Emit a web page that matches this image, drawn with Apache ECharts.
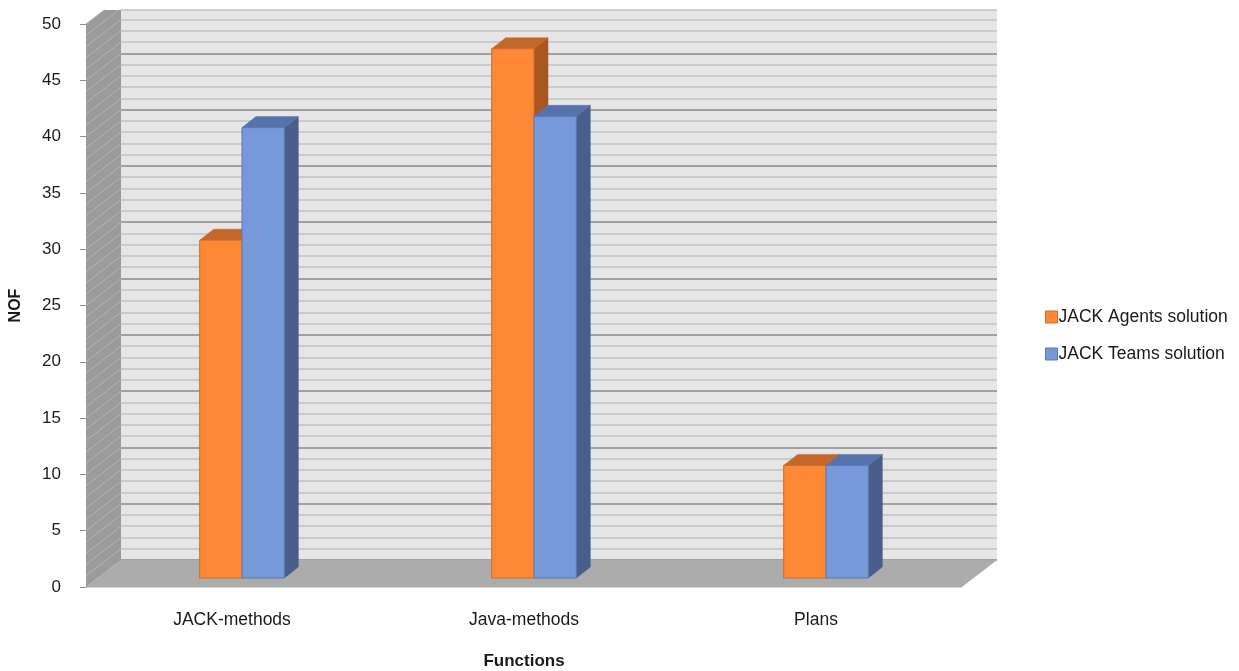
<!DOCTYPE html>
<html>
<head>
<meta charset="utf-8">
<title>NOF by function</title>
<script src="https://cdn.jsdelivr.net/npm/echarts@6/dist/echarts.min.js"></script>
<style>
  html, body { margin: 0; padding: 0; background: #fff; }
  #chart { width: 1239px; height: 671px; }
</style>
</head>
<body>
<div id="chart"></div>
<script>
// data
var categories = ["JACK-methods", "Java-methods", "Plans"];
var agentsSolution = [30, 47, 10];
var teamsSolution = [40, 41, 10];
var seriesNames = ["JACK Agents solution", "JACK Teams solution"];
var yTicks = [0, 5, 10, 15, 20, 25, 30, 35, 40, 45, 50];

// layout of the fake 3d box
var FRONT = { left: 86, right: 962, top: 24, bottom: 587 };
var DEPTH = { dx: 35, dy: -27 };
var WALL_TOP = 10;
var BAR_OFF = { dx: 10, dy: -9 };
var BAR_DEPTH = { dx: 14, dy: -11 };

var colors = [
  { front: "#fd8835", top: "#c4672a", side: "#a9561f", stroke: "#d36d26" },
  { front: "#7799da", top: "#5673ae", side: "#4a5e8c", stroke: "#5a79b4" }
];

var unit = (FRONT.bottom - FRONT.top) / 50;
var backBottom = FRONT.bottom + DEPTH.dy;
var backMax = (backBottom - WALL_TOP) / unit;

function renderBar(params, api) {
  var c = colors[params.seriesIndex];
  var base = api.coord([api.value(0), 0]);
  var top = api.coord([api.value(0), api.value(1)]);
  var band = api.size([1, 0])[0];
  var w = band * 0.145;
  var x0 = base[0] + (params.seriesIndex === 0 ? -w : 0);
  var x1 = x0 + w;
  var yT = top[1], yB = base[1];
  var dx = BAR_DEPTH.dx, dy = BAR_DEPTH.dy;
  return {
    type: "group",
    children: [
      {
        type: "polygon",
        shape: { points: [[x1, yB], [x1, yT], [x1 + dx, yT + dy], [x1 + dx, yB + dy]] },
        style: { fill: c.side, stroke: c.side, lineWidth: 0.5 }
      },
      {
        type: "polygon",
        shape: { points: [[x0, yT], [x1, yT], [x1 + dx, yT + dy], [x0 + dx, yT + dy]] },
        style: { fill: c.top, stroke: c.top, lineWidth: 0.5 }
      },
      {
        type: "rect",
        shape: { x: x0, y: yT, width: w, height: yB - yT },
        style: { fill: c.front, stroke: c.stroke, lineWidth: 1 }
      }
    ]
  };
}

function barData(values) {
  return values.map(function (v, i) { return [i, v]; });
}

var chart = echarts.init(document.getElementById("chart"));

chart.setOption({
  animation: false,
  textStyle: { fontFamily: "Liberation Sans, Arial, sans-serif" },
  legend: {
    orient: "vertical",
    left: 1040,
    top: 303,
    itemWidth: 12,
    itemHeight: 12,
    itemGap: 19,
    textStyle: { fontSize: 17.5, color: "#1a1a1a", padding: [0, 0, 0, -4] },
    data: [
      { name: seriesNames[0], icon: "rect", itemStyle: { color: colors[0].front, borderColor: colors[0].stroke, borderWidth: 1 } },
      { name: seriesNames[1], icon: "rect", itemStyle: { color: colors[1].front, borderColor: colors[1].stroke, borderWidth: 1 } }
    ]
  },
  grid: [
    // front plane: axis labels
    {
      left: FRONT.left, top: FRONT.top,
      width: FRONT.right - FRONT.left, height: FRONT.bottom - FRONT.top,
      outerBoundsMode: "none"
    },
    // back wall
    {
      left: FRONT.left + DEPTH.dx, top: WALL_TOP,
      width: FRONT.right - FRONT.left, height: backBottom - WALL_TOP,
      show: true, backgroundColor: "#e6e6e6", borderWidth: 0,
      outerBoundsMode: "none"
    },
    // plane where the bars stand
    {
      left: FRONT.left + BAR_OFF.dx, top: FRONT.top + BAR_OFF.dy,
      width: FRONT.right - FRONT.left, height: FRONT.bottom - FRONT.top,
      outerBoundsMode: "none"
    }
  ],
  xAxis: [
    {
      gridIndex: 0,
      type: "category",
      data: categories,
      name: "Functions",
      nameLocation: "middle",
      nameGap: 66,
      nameTextStyle: { fontWeight: "bold", fontSize: 17, color: "#1a1a1a" },
      axisLine: { lineStyle: { color: "#d4d4d4" } },
      axisTick: { show: false },
      axisLabel: { fontSize: 17.5, color: "#1a1a1a", margin: 24 }
    },
    { gridIndex: 1, type: "category", data: categories, show: false },
    { gridIndex: 2, type: "category", data: categories, show: false }
  ],
  yAxis: [
    {
      gridIndex: 0,
      type: "value",
      min: 0,
      max: 50,
      interval: 5,
      name: "NOF",
      nameLocation: "middle",
      nameGap: 62,
      nameTextStyle: { fontWeight: "bold", fontSize: 16, color: "#1a1a1a" },
      axisLine: { show: true, lineStyle: { color: "#8c8c8c" } },
      axisTick: { show: true, length: 6, lineStyle: { color: "#8c8c8c" } },
      axisLabel: { fontSize: 17, color: "#1a1a1a", margin: 25 },
      splitLine: { show: false }
    },
    {
      gridIndex: 1,
      type: "value",
      min: 0,
      max: backMax,
      interval: 1,
      axisLine: { show: false },
      axisTick: { show: false },
      axisLabel: { show: false },
      splitLine: {
        show: true,
        lineStyle: { color: ["#8a8a8a", "#c2c2c2", "#c2c2c2", "#c2c2c2", "#c2c2c2"], width: 1.5 }
      }
    },
    { gridIndex: 2, type: "value", min: 0, max: 50, show: false }
  ],
  series: [
    {
      name: seriesNames[0],
      type: "custom",
      xAxisIndex: 2,
      yAxisIndex: 2,
      itemStyle: { color: colors[0].front, borderColor: colors[0].stroke },
      renderItem: renderBar,
      data: barData(agentsSolution),
      z: 3
    },
    {
      name: seriesNames[1],
      type: "custom",
      xAxisIndex: 2,
      yAxisIndex: 2,
      itemStyle: { color: colors[1].front, borderColor: colors[1].stroke },
      renderItem: renderBar,
      data: barData(teamsSolution),
      z: 4
    }
  ]
});

// floor and side wall, placed from the front axis scale
function yFront(v) {
  return chart.convertToPixel({ yAxisIndex: 0 }, v);
}

var graphics = [];
var fl = FRONT.left, fr = FRONT.right, fb = yFront(0), ft = yFront(50);

// floor
graphics.push({
  type: "polygon",
  z: 1,
  shape: { points: [[fl, fb], [fr, fb], [fr + DEPTH.dx, fb + DEPTH.dy], [fl + DEPTH.dx, fb + DEPTH.dy]] },
  style: { fill: "#acacac" }
});

// side wall (clipped at the wall top)
var sideTopX = fl + DEPTH.dx * (ft - WALL_TOP) / (-DEPTH.dy);
graphics.push({
  type: "polygon",
  z: 1,
  shape: { points: [[fl, fb], [fl, ft], [sideTopX, WALL_TOP], [fl + DEPTH.dx, WALL_TOP], [fl + DEPTH.dx, fb + DEPTH.dy]] },
  style: { fill: "#9b9b9b" }
});

// grid lines carried on the side wall
for (var v = 1; v <= 50; v++) {
  var y1 = yFront(v);
  var x2 = fl + DEPTH.dx, y2 = y1 + DEPTH.dy;
  if (y2 < WALL_TOP) {
    x2 = fl + DEPTH.dx * (y1 - WALL_TOP) / (-DEPTH.dy);
    y2 = WALL_TOP;
  }
  graphics.push({
    type: "line",
    z: 1,
    shape: { x1: fl, y1: y1, x2: x2, y2: y2 },
    style: { stroke: "#b5b5b5", lineWidth: 1 }
  });
}

chart.setOption({ graphic: graphics });
</script>
</body>
</html>
